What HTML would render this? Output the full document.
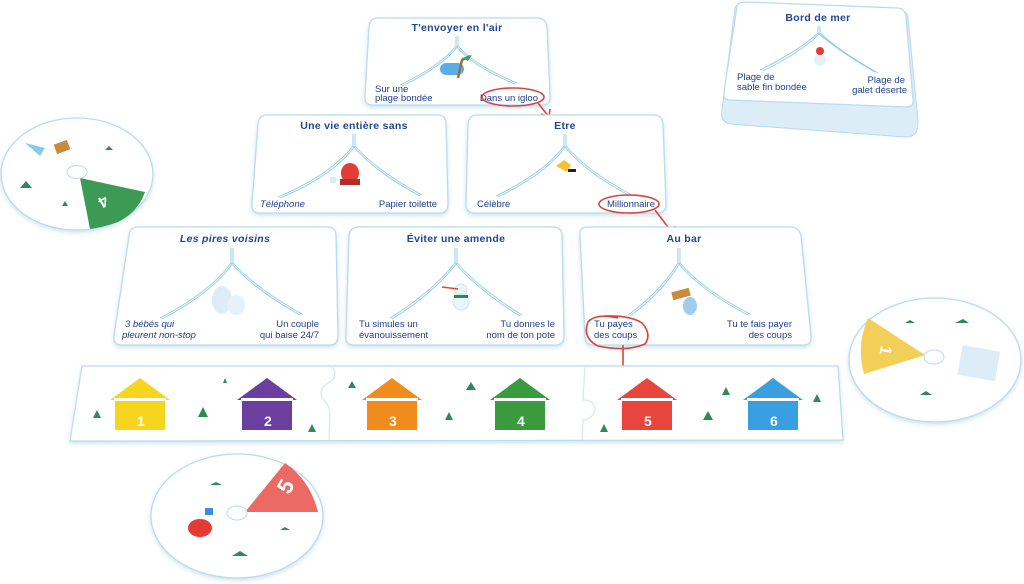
<!DOCTYPE html>
<html><head><meta charset="utf-8"><style>
html,body{margin:0;padding:0;background:#fff;}
svg{display:block;}
.t{font-family:"Liberation Sans",sans-serif;font-weight:bold;fill:#1f4596;font-size:10.5px;letter-spacing:0.3px;}
.l{font-family:"Liberation Sans",sans-serif;fill:#1f3f8a;font-size:9.5px;}
.i{font-style:italic;}
.card{fill:#fff;stroke:#b9dcef;stroke-width:1.3;}
.tr{fill:none;stroke:#8ccbe8;stroke-width:0.9;}
.red{fill:none;stroke:#d9443c;stroke-width:1.6;}
</style></head><body>
<svg width="1024" height="584" viewBox="0 0 1024 584" xmlns="http://www.w3.org/2000/svg">
<defs>
<filter id="sh" x="-10%" y="-10%" width="120%" height="130%"><feDropShadow dx="0" dy="2" stdDeviation="2" flood-color="#9fc7dc" flood-opacity="0.5"/></filter>
</defs>

<!-- disk 1 -->
<ellipse cx="77" cy="174" rx="76" ry="56" fill="#fff" stroke="#b9dcef" stroke-width="1.3" filter="url(#sh)"/>
<path d="M80,178 L145,192 Q138,212 118,222 Q104,227 90,229 Z" fill="#3d9a55"/>
<text x="100" y="208" font-family="Liberation Sans" font-weight="bold" font-size="16" fill="#fff" transform="rotate(150 104 202)">4</text>
<ellipse cx="77" cy="172" rx="10" ry="6.5" fill="#fff" stroke="#b9dcef"/>
<path d="M25,143 L45,148 L40,156 Z" fill="#8ac8ee"/>
<rect x="55" y="142" width="14" height="10" fill="#c98a3a" transform="rotate(-20 62 147)"/>
<path d="M20,188 l6,-7 l6,7 Z M62,206 l3,-5 l3,5 Z M105,150 l4,-4 l4,4 Z" fill="#2f8a55"/>

<!-- disk 2 -->
<ellipse cx="935" cy="360" rx="86" ry="62" fill="#fff" stroke="#b9dcef" stroke-width="1.3" filter="url(#sh)"/>
<path d="M925,355 L868,318 Q856,345 864,374 Z" fill="#f3cf57"/>
<text x="880" y="358" font-family="Liberation Sans" font-weight="bold" font-size="16" fill="#fff" transform="rotate(100 886 352)">1</text>
<ellipse cx="934" cy="357" rx="10" ry="7" fill="#fff" stroke="#b9dcef"/>
<rect x="960" y="348" width="38" height="30" fill="#dcedf8" transform="rotate(10 978 362)"/>
<path d="M955,323 l8,-4 l6,4 Z M920,395 l6,-4 l6,4 Z M905,323 l5,-3 l5,3 Z" fill="#2f8a55"/>

<!-- disk 3 -->
<ellipse cx="237" cy="516" rx="86" ry="62" fill="#fff" stroke="#b9dcef" stroke-width="1.3" filter="url(#sh)"/>
<path d="M245,512 L285,463 Q310,480 318,512 Z" fill="#ec6a64"/>
<text x="283" y="499" font-family="Liberation Sans" font-weight="bold" font-size="22" fill="#fff" transform="rotate(-60 283 492)">5</text>
<ellipse cx="237" cy="513" rx="10" ry="7" fill="#fff" stroke="#b9dcef"/>
<ellipse cx="200" cy="528" rx="12" ry="9" fill="#e33b36"/>
<rect x="205" y="508" width="8" height="7" fill="#3a8de0"/>
<path d="M210,485 l6,-3 l6,3 Z M280,530 l5,-3 l5,3 Z M232,556 l8,-5 l8,5 Z" fill="#2f8a55"/>

<!-- stack -->
<path d="M735,8 Q737,3 745,3 L900,10 Q907,11 908,18 L918,120 Q919,138 905,137 L730,124 Q720,122 722,110 Z" fill="#dcedf7" stroke="#b5d9ec"/>
<path d="M737,6 Q738,2 746,2 L898,8 Q905,9 906,16 L913,100 Q914,107 906,107 L730,100 Q723,100 724,92 Z" class="card"/>
<text x="818" y="21" text-anchor="middle" class="t">Bord de mer</text>
<path class="tr" d="M818,26 V33 Q800,50 760,70 M818,33 Q840,52 875,72 M820,26 V33 Q803,51 763,71 M820,33 Q842,53 878,73"/>
<circle cx="820" cy="60" r="6" fill="#e5f1fa"/><circle cx="820" cy="51" r="4" fill="#e33b36"/>
<text x="737" y="80" class="l">Plage de</text><text x="737" y="90" class="l">sable fin bondée</text>
<text x="905" y="83" text-anchor="end" class="l">Plage de</text><text x="907" y="93" text-anchor="end" class="l">galet déserte</text>

<!-- card top -->
<path d="M378,18 L537,18 Q546,18 547,27 L550,95 Q551,105 541,105 L373,105 Q364,105 365,96 L369,27 Q370,18 378,18 Z" class="card" filter="url(#sh)"/>
<text x="457" y="31" text-anchor="middle" class="t">T'envoyer en l'air</text>
<path class="tr" d="M456,36 V46 Q440,66 400,85 M458,36 V46 Q442,67 402,86 M456,46 Q472,66 515,84 M458,46 Q474,65 517,83"/>
<rect x="440" y="63" width="24" height="12" rx="6" fill="#5aaee8"/><path d="M458,78 L462,60 L470,56" stroke="#9c7046" stroke-width="2.5" fill="none"/><path d="M462,58 l10,-3 l-4,6 Z" fill="#3aa35a"/>
<text x="375" y="92" class="l">Sur une</text><text x="375" y="101" class="l">plage bondée</text>
<text x="538" y="101" text-anchor="end" class="l">Dans un igloo</text>
<ellipse cx="513" cy="97" rx="31" ry="9" class="red"/>
<path class="red" d="M538,103 L549,117 M541,114 L549,117 L550,109"/>

<!-- card A -->
<path d="M267,115 L437,115 Q446,115 446,124 L448,204 Q448,213 439,213 L260,213 Q251,213 252,204 L258,124 Q259,115 267,115 Z" class="card" filter="url(#sh)"/>
<text x="354" y="129" text-anchor="middle" class="t">Une vie entière sans</text>
<path class="tr" d="M353,134 V146 Q330,175 278,197 M355,134 V146 Q333,176 280,198 M353,146 Q375,172 420,196 M355,146 Q377,171 422,195"/>
<ellipse cx="350" cy="173" rx="9" ry="10" fill="#e33b36"/><rect x="340" y="179" width="20" height="6" fill="#b12c2a"/><rect x="330" y="177" width="6" height="6" fill="#d8eaf6"/>
<text x="260" y="207" class="l i">Téléphone</text>
<text x="437" y="207" text-anchor="end" class="l">Papier toilette</text>

<!-- card B -->
<path d="M477,115 L653,115 Q662,115 663,124 L666,204 Q666,213 657,213 L475,213 Q466,213 466,204 L468,124 Q469,115 477,115 Z" class="card" filter="url(#sh)"/>
<text x="565" y="129" text-anchor="middle" class="t">Etre</text>
<path class="tr" d="M564,134 V146 Q545,172 496,196 M566,134 V146 Q547,173 498,197 M564,146 Q585,172 630,196 M566,146 Q587,171 632,195"/>
<path d="M556,166 l8,-6 l7,5 l-4,7 Z" fill="#f2c230"/><rect x="568" y="169" width="8" height="3" fill="#222"/>
<text x="477" y="207" class="l">Célèbre</text>
<text x="655" y="207" text-anchor="end" class="l">Millionnaire</text>
<ellipse cx="629" cy="204" rx="30" ry="9" class="red"/>
<path class="red" d="M655,210 L674,235 M666,231 L674,235 L675,226"/>

<!-- card C -->
<path d="M138,227 L327,227 Q336,227 336,236 L338,336 Q338,345 329,345 L122,345 Q113,345 114,336 L129,236 Q130,227 138,227 Z" class="card" filter="url(#sh)"/>
<text x="225" y="242" text-anchor="middle" class="t i">Les pires voisins</text>
<path class="tr" d="M231,248 V263 Q210,292 160,318 M233,248 V263 Q212,293 162,319 M231,263 Q255,290 300,315 M233,263 Q257,289 302,314"/>
<ellipse cx="222" cy="300" rx="10" ry="14" fill="#dcedf8"/><ellipse cx="236" cy="305" rx="9" ry="10" fill="#e6f1fa"/>
<text x="125" y="327" class="l i">3 bébés qui</text><text x="122" y="338" class="l i">pleurent non-stop</text>
<text x="319" y="327" text-anchor="end" class="l">Un couple</text><text x="319" y="338" text-anchor="end" class="l">qui baise 24/7</text>

<!-- card D -->
<path d="M359,227 L553,227 Q562,227 562,236 L564,336 Q564,345 555,345 L354,345 Q345,345 346,336 L349,236 Q350,227 359,227 Z" class="card" filter="url(#sh)"/>
<text x="456" y="242" text-anchor="middle" class="t">Éviter une amende</text>
<path class="tr" d="M455,248 V263 Q432,292 390,318 M457,248 V263 Q434,293 392,319 M455,263 Q478,290 520,316 M457,263 Q480,289 522,315"/>
<circle cx="461" cy="290" r="6" fill="#eaf4fb" stroke="#cfe4f2"/><circle cx="461" cy="302" r="8" fill="#eaf4fb" stroke="#cfe4f2"/><rect x="454" y="295" width="14" height="3" fill="#2c8a4a"/><path d="M442,287 L458,289" stroke="#e04a2a" stroke-width="1.5"/>
<text x="359" y="327" class="l">Tu simules un</text><text x="359" y="338" class="l">évanouissement</text>
<text x="555" y="327" text-anchor="end" class="l">Tu donnes le</text><text x="555" y="338" text-anchor="end" class="l">nom de ton pote</text>

<!-- card E -->
<path d="M588,227 L790,227 Q799,227 801,236 L811,336 Q812,345 803,345 L594,345 Q585,345 585,336 L580,236 Q579,227 588,227 Z" class="card" filter="url(#sh)"/>
<text x="684" y="242" text-anchor="middle" class="t">Au bar</text>
<path class="tr" d="M678,248 V263 Q660,292 628,315 M680,248 V263 Q662,293 630,316 M678,263 Q700,290 748,315 M680,263 Q702,289 750,314"/>
<rect x="672" y="290" width="18" height="8" fill="#c98a3a" transform="rotate(-15 681 294)"/><ellipse cx="690" cy="306" rx="7" ry="9" fill="#9fcdf0"/>
<text x="594" y="327" class="l">Tu payes</text><text x="594" y="338" class="l">des coups</text>
<text x="792" y="327" text-anchor="end" class="l">Tu te fais payer</text><text x="792" y="338" text-anchor="end" class="l">des coups</text>
<path class="red" d="M618,318 Q596,313 588,322 Q582,338 598,346 Q626,352 645,344 Q652,334 642,323 Q630,315 604,316"/>
<path class="red" d="M623,345 L623,381 M616,372 L623,381 L629,371"/>

<!-- strip -->
<path d="M82,366 L838,366 L843,440 L70,441 Z" fill="#fff" stroke="#b9dcef" stroke-width="1.2" filter="url(#sh)"/>
<path d="M333,367 Q338,378 330,382 Q318,388 322,398 Q330,406 330,413 L329,440" fill="none" stroke="#d6e6ef" stroke-width="1.2"/>
<path d="M585,367 L583,400 Q595,400 595,410 Q592,420 583,420 L582,440" fill="none" stroke="#d6e6ef" stroke-width="1.2"/>

<g font-family="Liberation Sans" font-weight="bold" font-size="14" fill="#fff">
<g transform="translate(140,0)"><path d="M-30,400 L0,378 L30,400 Z" fill="#f5d51d"/><rect x="-25" y="398" width="50" height="32" fill="#f5d51d"/><rect x="-26" y="398" width="52" height="3" fill="#fff"/><text x="-3" y="426">1</text></g>
<g transform="translate(267,0)"><path d="M-30,400 L0,378 L30,400 Z" fill="#6a3fa0"/><rect x="-25" y="398" width="50" height="32" fill="#6a3fa0"/><rect x="-26" y="398" width="52" height="3" fill="#fff"/><text x="-3" y="426">2</text></g>
<g transform="translate(392,0)"><path d="M-30,400 L0,378 L30,400 Z" fill="#f08c1c"/><rect x="-25" y="398" width="50" height="32" fill="#f08c1c"/><rect x="-26" y="398" width="52" height="3" fill="#fff"/><text x="-3" y="426">3</text></g>
<g transform="translate(520,0)"><path d="M-30,400 L0,378 L30,400 Z" fill="#3a9a3e"/><rect x="-25" y="398" width="50" height="32" fill="#3a9a3e"/><rect x="-26" y="398" width="52" height="3" fill="#fff"/><text x="-3" y="426">4</text></g>
<g transform="translate(647,0)"><path d="M-30,400 L0,378 L30,400 Z" fill="#e8453c"/><rect x="-25" y="398" width="50" height="32" fill="#e8453c"/><rect x="-26" y="398" width="52" height="3" fill="#fff"/><text x="-3" y="426">5</text></g>
<g transform="translate(773,0)"><path d="M-30,400 L0,378 L30,400 Z" fill="#3a9fe0"/><rect x="-25" y="398" width="50" height="32" fill="#3a9fe0"/><rect x="-26" y="398" width="52" height="3" fill="#fff"/><text x="-3" y="426">6</text></g>
</g>
<path d="M93,418 l4,-8 l4,8 Z M198,417 l5,-10 l5,10 Z M223,383 l2,-5 l2,5 Z M308,432 l4,-8 l4,8 Z M348,388 l4,-7 l4,7 Z M466,390 l5,-8 l5,8 Z M445,420 l4,-8 l4,8 Z M600,432 l4,-8 l4,8 Z M703,420 l5,-9 l5,9 Z M722,395 l4,-8 l4,8 Z M813,402 l4,-8 l4,8 Z" fill="#2f8a55"/>
</svg>
</body></html>
